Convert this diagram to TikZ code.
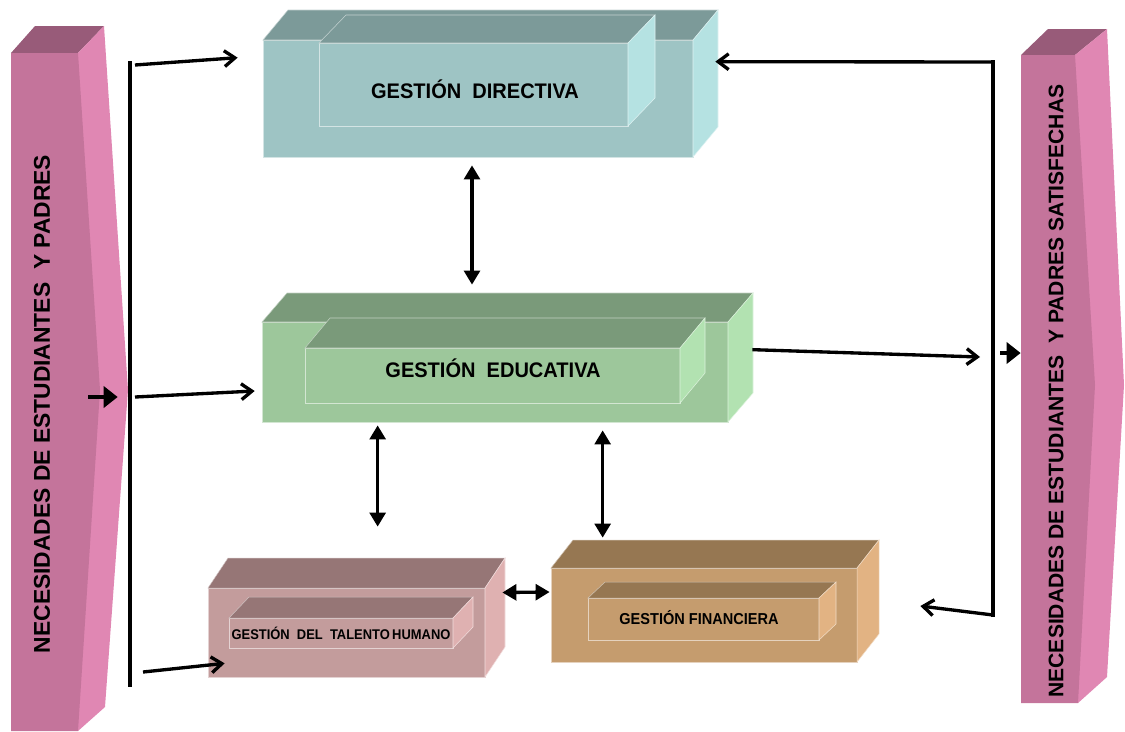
\documentclass[tikz,border=0pt]{standalone}
\usepackage{fontspec}
\setmainfont{Liberation Sans}
\newfontfamily\estrecha[FakeStretch=0.92]{Liberation Sans}
\newfontfamily\media[FakeStretch=0.95]{Liberation Sans}
\usetikzlibrary{arrows.meta,fit,calc}

\definecolor{rosafront}{HTML}{C4749B}
\definecolor{rosaside}{HTML}{E087B3}
\definecolor{rosatop}{HTML}{985B79}
\definecolor{dirfront}{HTML}{9EC4C4}
\definecolor{dirtop}{HTML}{7C9A99}
\definecolor{dirside}{HTML}{B5E2E2}
\definecolor{edufront}{HTML}{9DC79B}
\definecolor{edutop}{HTML}{7A9A7A}
\definecolor{eduside}{HTML}{B2E2B1}
\definecolor{talfront}{HTML}{C39C9C}
\definecolor{taltop}{HTML}{967676}
\definecolor{talside}{HTML}{DFB1B1}
\definecolor{finfront}{HTML}{C59C6E}
\definecolor{fintop}{HTML}{967752}
\definecolor{finside}{HTML}{E2B383}

% caja en 3D: x izq, y sup, x der, y inf, fondo dx, fondo dy, color
\newcommand{\cajon}[7]{%
  \fill[#7front, draw=white!55!#7front, line width=0.3pt] (#1,#2) rectangle (#3,#4);
  \fill[#7top, draw=white!55!#7top, line width=0.3pt] (#1,#2) -- ({#1+#5},{#2-#6}) -- ({#3+#5},{#2-#6}) -- (#3,#2) -- cycle;
  \fill[#7side, draw=white!55!#7side, line width=0.3pt] (#3,#2) -- ({#3+#5},{#2-#6}) -- ({#3+#5},{#4-#6}) -- (#3,#4) -- cycle;
}

\tikzset{
  caja/.style={inner sep=0pt},
  rotulo/.style={inner sep=0pt},
  barra/.style={line width=2pt, line cap=rect},
  flecha/.style={-{Straight Barb[length=6pt,width=9pt]}, line width=1.9pt},
  doble/.style={{Triangle[length=8pt,width=9pt]}-{Triangle[length=8pt,width=9pt]}, line width=1.9pt},
  gruesa/.style={-{Triangle[length=8pt,width=12pt]}, line width=2.8pt}
}

\begin{document}
\begin{tikzpicture}[x=0.02cm, y=-0.02cm]
\useasboundingbox (0,0) rectangle (1125,731);

% laterales
\fill[rosatop] (11,53) -- (35,26) -- (104,26) -- (78,53) -- cycle;
\fill[rosaside] (78,53) -- (104,26) -- (128,390) -- (105,707) -- (78,731) -- cycle;
\fill[rosafront] (11,53) -- (78,53) -- (100,390) -- (78,731) -- (11,731) -- cycle;
\node[caja, fit={(11,53)(78,731)}] (izqfront) {};
\node[rotulo, rotate=90, font=\fontsize{13}{15}\selectfont\bfseries] (izq) at (42,404) {NECESIDADES DE ESTUDIANTES\ \ Y PADRES};

\fill[rosatop] (1021,55) -- (1048,29) -- (1107,29) -- (1075,55) -- cycle;
\fill[rosaside] (1075,55) -- (1107,29) -- (1124,385) -- (1107,677) -- (1078,703) -- cycle;
\fill[rosafront] (1021,55) -- (1075,55) -- (1095,385) -- (1078,703) -- (1021,703) -- cycle;
\node[caja, fit={(1021,55)(1075,703)}] (derfront) {};
\node[rotulo, rotate=90, font=\fontsize{12}{14}\selectfont\bfseries] (der) at (1056,391) {NECESIDADES DE ESTUDIANTES\ \ Y PADRES SATISFECHAS};

% cajas
\cajon{263}{40}{693}{157}{25}{30}{dir}
\cajon{319}{43}{628}{126}{27}{28}{dir}
\node[caja, fit={(263,40)(693,157)}] (dir) {};
\node[rotulo, font=\fontsize{12}{14}\media\bfseries] (dirtxt) at (475,89) {GESTIÓN\ \ DIRECTIVA};

\cajon{262}{322}{728}{422}{25}{29}{edu}
\cajon{305}{348}{680}{403}{25}{30}{edu}
\node[caja, fit={(262,322)(728,422)}] (edu) {};
\node[rotulo, font=\fontsize{12}{14}\media\bfseries] (edutxt) at (493,368) {GESTIÓN\ \ EDUCATIVA};

\cajon{208}{588}{485}{677}{20}{30}{tal}
\cajon{229}{618}{453}{648}{20}{21}{tal}
\node[caja, fit={(208,588)(485,677)}] (tal) {};
\node[rotulo, font=\fontsize{8}{10}\estrecha\bfseries] (taltxt) at (341,633) {GESTIÓN\ \ DEL\ \ TALENTO\,HUMANO};

\cajon{551}{568}{857}{662}{22}{28}{fin}
\cajon{588}{598}{819}{640}{17}{16}{fin}
\node[caja, fit={(551,568)(857,662)}] (fin) {};
\node[rotulo, font=\fontsize{9}{11}\estrecha\bfseries] (fintxt) at (699,618) {GESTIÓN FINANCIERA};

% barras y flechas
\coordinate (bi1) at (130,63);
\coordinate (bi2) at (130,685);
\coordinate (bd1) at (993,62);
\coordinate (bd2) at (993,615);
\coordinate (e1) at (88,397);
\coordinate (s1) at (135,65);
\coordinate (s2) at (135,397);
\coordinate (s3) at (143,672);
\coordinate (r1) at (980,357);
\coordinate (r2) at (1000,353);

\draw[barra] (bi1) -- (bi2);
\draw[barra] (bd1) -- (bd2);
\draw[gruesa, shorten >=7pt] (e1) -- (e1 -| bi1);
\draw[gruesa] (r2) -- (r2 -| derfront.west);

\draw[flecha] (s1) -- ([shift={(-25,18)}]dir.north west);
\draw[flecha] (s2) -- ([shift={(-7,19)}]edu.west);
\draw[flecha] (s3) -- ([shift={(17,-14)}]tal.south west);
\draw[flecha] ([shift={(24,28)}]edu.north east) -- (r1);
\draw[flecha] (bd1) -- ([shift={(22,22)}]dir.north east);
\draw[flecha] (bd2) -- ([shift={(63,-9)}]fin.east);

\draw[doble] ([shift={(-6,8)}]dir.south) -- ([shift={(-23,-37)}]edu.north);
\draw[doble] ([shift={(116,3)}]edu.south west) -- ([shift={(170,-61)}]tal.north west);
\draw[doble] ([shift={(341,8)}]edu.south west) -- ([shift={(52,-30)}]fin.north west);
\draw[doble] ([shift={(17,-40)}]tal.east) -- ([shift={(-1,-23)}]fin.west);
\end{tikzpicture}
\end{document}
